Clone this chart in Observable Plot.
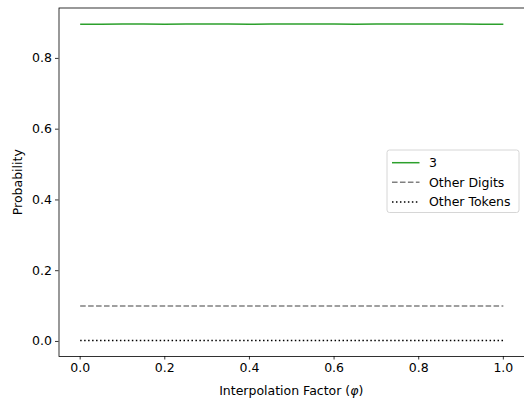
<!DOCTYPE html>
<html>
<head>
<meta charset="utf-8">
<script src="https://cdn.jsdelivr.net/npm/d3@7"></script>
<script src="https://cdn.jsdelivr.net/npm/@observablehq/plot@0.6"></script>
<style>
  html, body { margin: 0; padding: 0; background: #fff; }
  #chart { position: relative; width: 524px; height: 405px; }
</style>
</head>
<body>
<div id="chart"></div>
<script>
const phi = [0, 0.05, 0.1, 0.15, 0.2, 0.25, 0.3, 0.35, 0.4, 0.45, 0.5, 0.55, 0.6, 0.65, 0.7, 0.75, 0.8, 0.85, 0.9, 0.95, 1.0];
const target3 = [0.8965, 0.8965, 0.897, 0.897, 0.8968, 0.897, 0.8972, 0.897, 0.8968, 0.897, 0.8972, 0.897, 0.897, 0.8968, 0.897, 0.897, 0.8972, 0.897, 0.897, 0.8968, 0.8965];
const otherDigits = [0.1005, 0.1005, 0.1003, 0.1003, 0.1005, 0.1003, 0.1001, 0.1003, 0.1005, 0.1003, 0.1001, 0.1003, 0.1003, 0.1005, 0.1003, 0.1003, 0.1001, 0.1003, 0.1003, 0.1005, 0.1005];
const otherTokens = [0.003, 0.003, 0.003, 0.003, 0.003, 0.003, 0.003, 0.003, 0.003, 0.003, 0.003, 0.003, 0.003, 0.003, 0.003, 0.003, 0.003, 0.003, 0.003, 0.003, 0.003];
const seriesNames = ["3", "Other Digits", "Other Tokens"];
const xTicks = [0, 0.2, 0.4, 0.6, 0.8, 1.0];
const yTicks = [0, 0.2, 0.4, 0.6, 0.8];

const styles = {
  "3": {stroke: "#2ca02c", dash: null},
  "Other Digits": {stroke: "#808080", dash: "5.55,2.4"},
  "Other Tokens": {stroke: "#000000", dash: "1.5,2.475"}
};

const seriesValues = [target3, otherDigits, otherTokens];
const rows = [];
seriesNames.forEach((name, si) => {
  phi.forEach((p, i) => rows.push({phi: p, value: seriesValues[si][i], series: name}));
});

const font = "DejaVu Sans, sans-serif";
const fs = 12.5;

const plot = Plot.plot({
  width: 524,
  height: 405,
  marginLeft: 58.5,
  marginRight: 0,
  marginTop: 7.5,
  marginBottom: 49,
  style: {fontFamily: font, fontSize: fs + "px", color: "#000", background: "#fff"},
  x: {domain: [-0.05, 1.05]},
  y: {domain: [-0.0425, 0.9425]},
  marks: [
    ...seriesNames.map(name => Plot.line(rows.filter(d => d.series === name), {
      x: "phi", y: "value",
      stroke: styles[name].stroke,
      strokeWidth: 1.5,
      strokeDasharray: styles[name].dash,
      strokeLinecap: "butt"
    })),
    Plot.frame({stroke: "#000", strokeWidth: 0.8}),
    Plot.axisX({
      ticks: xTicks, tickFormat: d3.format(".1f"), tickSize: 3.5, tickPadding: 3.5,
      strokeWidth: 0.8, fontSize: fs, label: null
    }),
    Plot.axisY({
      ticks: yTicks, tickFormat: d3.format(".1f"), tickSize: 3.5, tickPadding: 3.5,
      strokeWidth: 0.8, fontSize: fs,
      label: "Probability", labelAnchor: "center", labelArrow: "none", labelOffset: 46
    })
  ]
});

document.getElementById("chart").appendChild(plot);

const svg = d3.select(plot);

// x axis title with italic phi
const xl = svg.append("text")
  .attr("x", (58.5 + 524) / 2).attr("y", 390.7).attr("dy", "0.35em")
  .attr("text-anchor", "middle").attr("font-family", font).attr("font-size", fs)
  .attr("fill", "#000");
xl.append("tspan").text("Interpolation Factor (");
xl.append("tspan").attr("font-style", "italic").text("φ");
xl.append("tspan").text(")");

// Legend (matplotlib style)
const lg = svg.append("g").attr("font-family", font).attr("font-size", fs).attr("text-anchor", "start");
const box = {x: 387, y: 150, w: 132, h: 62.5};
lg.append("rect")
  .attr("x", box.x).attr("y", box.y).attr("width", box.w).attr("height", box.h)
  .attr("rx", 2.5).attr("fill", "#fff").attr("fill-opacity", 0.8)
  .attr("stroke", "#cccccc").attr("stroke-width", 0.8);
seriesNames.forEach((name, i) => {
  const cy = 162.7 + i * 19.6;
  lg.append("line")
    .attr("x1", 392).attr("x2", 419.5).attr("y1", cy).attr("y2", cy)
    .attr("stroke", styles[name].stroke).attr("stroke-width", 1.5)
    .attr("stroke-dasharray", styles[name].dash);
  lg.append("text")
    .attr("x", 429).attr("y", cy).attr("dy", "0.35em")
    .attr("text-anchor", "start")
    .attr("fill", "#000").text(name);
});
</script>
</body>
</html>
